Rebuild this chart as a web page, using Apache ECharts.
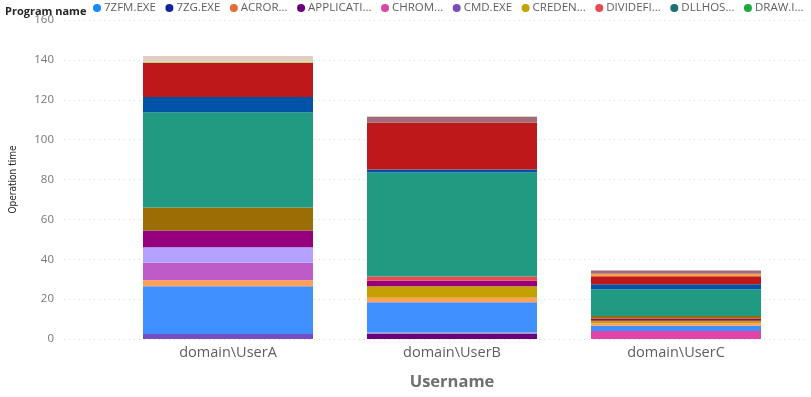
<!DOCTYPE html>
<html>
<head>
<meta charset="utf-8">
<script src="https://cdn.jsdelivr.net/npm/echarts@6/dist/echarts.min.js"></script>
<style>
  html, body { margin: 0; padding: 0; background: #fff; }
  #chart { width: 811px; height: 397px; }
</style>
</head>
<body>
<div id="chart"></div>
<script>
// categories
const users = ['domain\\UserA', 'domain\\UserB', 'domain\\UserC'];

// y axis ticks
const yMin = 0;
const yMax = 160;
const yStep = 20;

// legend entries as shown (first page of the legend)
const legendPrograms = ['7ZFM.EXE', '7ZG.EXE', 'ACROR...', 'APPLICATI...', 'CHROM...',
  'CMD.EXE', 'CREDEN...', 'DIVIDEFI...', 'DLLHOS...', 'DRAW.I...'];

// stacked programs, bottom to top
const programs = ['APPLICATI...', 'CHROM...', 'CMD.EXE', 'ESRV.EXE', 'EXCEL.EXE', 'EXPLORER.EXE',
  'CREDEN...', 'FIREFOX.EXE', 'FONTDRVHOST.EXE', 'GIT.EXE', 'DIVIDEFI...', 'HXOUTLOOK.EXE',
  'MSEDGE.EXE', 'MSTSC.EXE', 'OUTLOOK.EXE', 'POWERPNT.EXE', 'SEARCHAPP.EXE', 'TEAMS.EXE',
  'WINWORD.EXE', '7ZFM.EXE', '7ZG.EXE', 'ACROR...', 'DLLHOS...', 'DRAW.I...'];

// operation time per program for each user (same order as programs)
const userA = [0, 0, 2.5, 0, 24, 3, 0, 8.7, 7.8, 8.4, 0, 11.5, 47.8, 7.7, 17.1, 0.7, 0, 0, 2.7, 0, 0, 0, 0, 0];
const userB = [2.7, 0, 0, 0.5, 15.2, 2.3, 5.8, 0, 0, 2.7, 2.2, 0, 52.1, 1.5, 23.5, 0, 0, 2.8, 0.5, 0, 0, 0, 0, 0];
const userC = [0, 4.0, 0, 0, 2.7, 1.2, 1.2, 0, 0, 1.1, 0, 1.3, 13.5, 2.5, 4.0, 0, 1.2, 1.7, 0, 0, 0, 0, 0, 0];

const colors = ['#6B007B', '#E044A7', '#744EC2', '#A9A4C8', '#3F8FFF', '#FFA058',
  '#C4A000', '#BE5BC8', '#B3A0FF', '#96007F', '#EC4850', '#9A6D05',
  '#209A80', '#0053A6', '#BE181A', '#B5D86A', '#F4A24E', '#A46A7A',
  '#E0CFC0', '#118DFF', '#12239E', '#E66C37', '#197278', '#1AAB40'];

let myChart = echarts.init(document.getElementById('chart'));

let series = programs.map(function (name, i) {
  return {
    name: name,
    type: 'bar',
    stack: 'total',
    xAxisIndex: 1,
    yAxisIndex: 1,
    barWidth: 170,
    itemStyle: { color: colors[i] },
    data: [userA[i], userB[i], userC[i]]
  };
});

let option = {
  backgroundColor: '#fff',
  animation: false,
  title: {
    text: 'Program name',
    left: 0,
    top: 1,
    textStyle: { fontFamily: 'Open Sans', fontSize: 11, fontWeight: 'bold', color: '#252423' }
  },
  legend: {
    data: legendPrograms,
    left: 93,
    top: 2,
    padding: 0,
    icon: 'circle',
    itemWidth: 8,
    itemHeight: 8,
    itemGap: 9.5,
    textStyle: { fontFamily: 'Open Sans', fontSize: 11.5, color: '#605E5C', padding: [0, 0, 0, -2] }
  },
  grid: [
    { left: 53, right: 6, top: 20, bottom: 58 },
    { left: 116, right: 23, top: 20, bottom: 58 }
  ],
  xAxis: [
    { gridIndex: 0, type: 'value', show: false },
    {
      gridIndex: 1,
      type: 'category',
      data: users,
      axisLine: { show: false },
      axisTick: { show: false },
      axisLabel: { fontFamily: 'Open Sans', fontSize: 14.5, color: '#605E5C', margin: 6 },
      name: 'Username',
      nameLocation: 'middle',
      nameGap: 35,
      nameTextStyle: { fontFamily: 'Open Sans', fontSize: 16.5, fontWeight: 'bold', color: '#6F6F6F' }
    }
  ],
  yAxis: [
    {
      gridIndex: 0,
      type: 'value',
      min: yMin,
      max: yMax,
      interval: yStep,
      axisLine: { show: false },
      axisTick: { show: false },
      axisLabel: { fontFamily: 'Open Sans', fontSize: 11.5, color: '#777', margin: 10 },
      splitLine: { show: true, lineStyle: { color: '#D6D6D6', type: [1, 4], width: 1 } },
      name: 'Operation time',
      nameLocation: 'middle',
      nameGap: 46,
      nameTextStyle: { fontFamily: 'DejaVu Sans Condensed, Roboto, sans-serif', fontSize: 10, color: '#252423' }
    },
    { gridIndex: 1, type: 'value', min: yMin, max: yMax, interval: yStep, show: false, splitLine: { show: false } }
  ],
  series: series
};

myChart.setOption(option);
window.onresize = function () {
  myChart.resize();
};
</script>
</body>
</html>
